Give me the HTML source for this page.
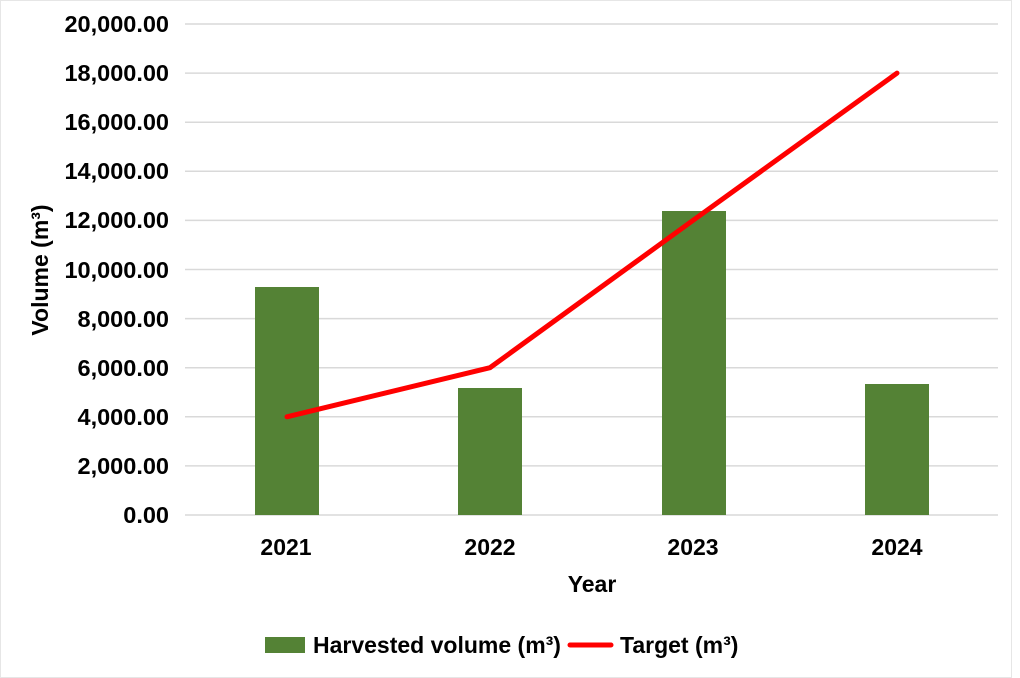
<!DOCTYPE html>
<html><head><meta charset="utf-8"><style>
html,body{margin:0;padding:0;background:#fff;}
svg{display:block;font-family:"Liberation Sans",Arial,sans-serif;font-weight:bold;}
</style></head><body>
<svg width="1020" height="678" viewBox="0 0 1020 678" xmlns="http://www.w3.org/2000/svg">
<rect x="0.5" y="0.5" width="1011" height="677" fill="#fff" stroke="#e6e6e6"/>
<g stroke="#d9d9d9" stroke-width="1.5">
<line x1="185" x2="998" y1="24" y2="24"/>
<line x1="185" x2="998" y1="73.1" y2="73.1"/>
<line x1="185" x2="998" y1="122.2" y2="122.2"/>
<line x1="185" x2="998" y1="171.3" y2="171.3"/>
<line x1="185" x2="998" y1="220.4" y2="220.4"/>
<line x1="185" x2="998" y1="269.5" y2="269.5"/>
<line x1="185" x2="998" y1="318.6" y2="318.6"/>
<line x1="185" x2="998" y1="367.7" y2="367.7"/>
<line x1="185" x2="998" y1="416.8" y2="416.8"/>
<line x1="185" x2="998" y1="465.9" y2="465.9"/>
<line x1="185" x2="998" y1="515" y2="515"/>
</g>
<g font-size="23.5" text-anchor="end" fill="#000">
<text x="169" y="32">20,000.00</text>
<text x="169" y="81">18,000.00</text>
<text x="169" y="130">16,000.00</text>
<text x="169" y="179">14,000.00</text>
<text x="169" y="228">12,000.00</text>
<text x="169" y="278">10,000.00</text>
<text x="169" y="327">8,000.00</text>
<text x="169" y="376">6,000.00</text>
<text x="169" y="425">4,000.00</text>
<text x="169" y="474">2,000.00</text>
<text x="169" y="523">0.00</text>
</g>
<text transform="translate(48,270) rotate(-90)" font-size="23" text-anchor="middle">Volume (m³)</text>
<g fill="#548235">
<rect x="255" y="287" width="64" height="228"/>
<rect x="458" y="388" width="64" height="127"/>
<rect x="662" y="211" width="64" height="304"/>
<rect x="865" y="384" width="64" height="131"/>
</g>
<polyline points="287,416.8 490,367.7 693,220.4 897,73.1" fill="none" stroke="#ff0000" stroke-width="5" stroke-linecap="round" stroke-linejoin="round"/>
<g font-size="23" text-anchor="middle">
<text x="286" y="555">2021</text>
<text x="490" y="555">2022</text>
<text x="693" y="555">2023</text>
<text x="897" y="555">2024</text>
<text x="592" y="592">Year</text>
</g>
<rect x="265" y="637" width="40" height="16" fill="#548235"/>
<text x="313" y="653" font-size="23">Harvested volume (m³)</text>
<line x1="570" x2="611" y1="645" y2="645" stroke="#ff0000" stroke-width="5" stroke-linecap="round"/>
<text x="620" y="653" font-size="23">Target (m³)</text>
</svg>
</body></html>
